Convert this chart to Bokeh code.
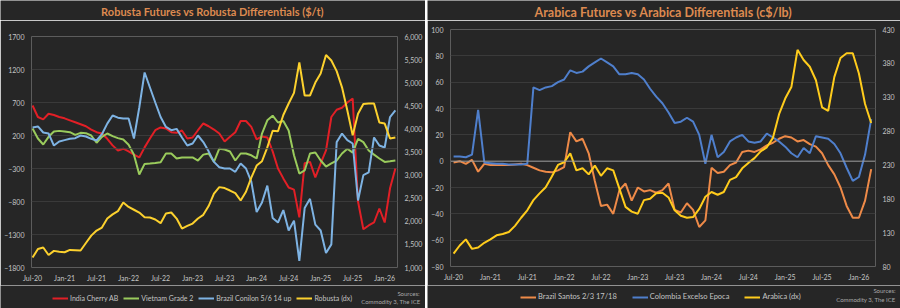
from bokeh.plotting import figure
from bokeh.layouts import row, column
from bokeh.models import (Range1d, LinearAxis, FixedTicker, NumeralTickFormatter,
                          Span, Label, Legend, LegendItem)
from bokeh.embed import file_html
from bokeh.resources import INLINE

# ---------------- data ----------------
tick_labels = ["Jul-20", "Jan-21", "Jul-21", "Jan-22", "Jul-22", "Jan-23",
               "Jul-23", "Jan-24", "Jul-24", "Jan-25", "Jul-25", "Jan-26"]
tick_pos = [0, 6, 12, 18, 24, 30, 36, 42, 48, 54, 60, 66]

# Robusta differentials ($/t) and futures ($/t), monthly Jul-20 .. Mar-26
india_cherry_ab = [655, 480, 445, 530, 510, 480, 460, 430, 400, 370,
                   340, 290, 250, 230, 150, 50, -27, 0, -40, -90,
                   -133, 20, 155, 280, 322, 306, 250, 240, 276, 155,
                   170, 280, 382, 340, 290, 230, 110, 180, 250, 420,
                   420, 330, 140, 185, 170, -40, -300, -450, -588, -620,
                   -1040, -220, -200, -436, -224, -27, 480, 590, 620, 700,
                   760, -800, -1220, -1163, -1118, -906, -1118, -600, -300]
vietnam_grade_2 = [306, 155, 64, 180, 260, 270, 260, 250, 210, 240,
                   235, 200, 90, 180, 230, 190, 160, 140, 60, -90,
                   -390, -230, -224, -215, -205, -73, -73, -148, -133, -133,
                   -133, -179, -90, -73, -200, 0, -12, -42, -179, -73,
                   -73, -100, -148, 230, 430, 500, 397, 420, 276, -100,
                   -376, -330, -73, -57, -179, -270, -224, -179, -73, 0,
                   -60, 150, 100, -27, -90, -148, -200, -190, -179]
brazil_conilon = [322, 337, 245, 230, 48, 110, 130, 150, 160, 200,
                  185, 150, 124, 220, 380, 503, 470, 458, 458, 155,
                  624, 1155, 927, 700, 480, 330, 280, 300, 170, 48,
                  79, 200, 100, -40, -200, -280, -300, -300, -350, -224,
                  -300, -500, -960, -815, -560, -1050, -1118, -930, -1240, -1090,
                  -1700, -900, -760, -1150, -1240, -1580, -1450, 100, 230, 130,
                  79, -785, -400, -360, 170, 48, 18, 480, 579]
robusta_dx = [1215, 1400, 1432, 1270, 1360, 1340, 1330, 1380, 1375, 1367,
              1530, 1690, 1800, 1865, 2060, 2150, 2220, 2406, 2310, 2250,
              2190, 2090, 2081, 2040, 1960, 2168, 2190, 2059, 1843, 1900,
              1951, 2060, 2140, 2330, 2600, 2740, 2720, 2666, 2610, 2450,
              2640, 2947, 3207, 3300, 3600, 3960, 3950, 4300, 4549, 4780,
              5437, 4723, 4723, 5004, 5200, 5600, 5480, 5250, 4900, 4400,
              3860, 4330, 4540, 4550, 4549, 4138, 4116, 3792, 3813]

# Arabica differentials (c$/lb) and futures (c$/lb)
brazil_santos = [-1, 0, -2, 1, -8, -2, -3, -3, -3, -3,
                 -2.5, -2, -3, -5, -7, -8, -8.5, -7, -4.5, 22,
                 15, 17, 6, -15, -34, -33, -40, -22, -17, -30,
                 -20, -23, -22, -24, -22, -17, -37, -39, -32, -37,
                 -50, -45, -5, -9, -8, -3, -1, 7, 8, 7,
                 9, 12, 14, 17, 19, 18, 15, 16, 13, 11,
                 6, -3, -10, -20, -34, -43, -43, -30, -6]
colombia_excelso = [3.5, 3.5, 3, 5, 39, -1, -1.5, -2, -2, -2.5,
                    -2.5, -2.5, -2, 56, 54, 56, 57, 60, 62, 69,
                    67, 68, 72, 75, 78, 75, 72, 66, 66, 67,
                    66, 62, 55, 49, 44, 37, 29, 30, 33, 30,
                    20, -2, 20, 3, 7, 15, 18, 20, 15, 14,
                    15, 21, 18, 15, 11, 6, 3, 10, 6, 19,
                    18, 17, 13, 6, -5, -15, -12, 5, 32]
arabica_dx = [99, 111, 120, 106, 108, 115, 120, 126, 128, 131,
              140, 152, 163, 178, 188, 197, 213, 230, 234, 247,
              222, 225, 216, 229, 214, 225, 222, 195, 168, 161,
              158, 178, 180, 188, 189, 182, 163, 155, 152, 153,
              165, 183, 190, 186, 190, 208, 212, 225, 233, 240,
              250, 256, 270, 305, 328, 345, 400, 385, 375, 355,
              315, 310, 360, 388, 395, 395, 365, 320, 292]

left_ticks_rob = [-1800, -1300, -800, -300, 200, 700, 1200, 1700]
right_ticks_rob = [1000, 1500, 2000, 2500, 3000, 3500, 4000, 4500, 5000, 5500, 6000]
left_ticks_ara = [-80, -60, -40, -20, 0, 20, 40, 60, 80, 100]
right_ticks_ara = [80, 130, 180, 230, 280, 330, 380, 430]

title_rob = "Robusta Futures vs Robusta Differentials ($/t)"
title_ara = "Arabica Futures vs Arabica Differentials (c$/lb)"
source_lines = ["Sources:", "Commodity 3, The ICE"]

# ---------------- style ----------------
BG = "#262626"
GRID = "#3a3a3a"
TXT = "#c4c4c4"
SRC = "#a8a8a8"
FONT = "Lato"
TITLE_C = "#dd8a50"
NAN = float("nan")


def main_fig(width, height, xr, yr, yr2, lt, rt, borders):
    l, r, t, b = borders
    p = figure(width=width, height=height, output_backend="svg", toolbar_location=None,
               x_range=xr, y_range=yr, min_border_left=l, min_border_right=r,
               min_border_top=t, min_border_bottom=b, frame_align=False,
               background_fill_color=BG, border_fill_color=BG, outline_line_color=None)
    p.extra_y_ranges = {"r": yr2}
    p.add_layout(LinearAxis(y_range_name="r"), "right")
    p.xgrid.visible = False
    p.ygrid.grid_line_color = GRID
    p.ygrid.grid_line_width = 1
    p.ygrid.ticker = FixedTicker(ticks=lt)
    for ax in p.axis:
        ax.axis_line_color = None
        ax.major_tick_line_color = None
        ax.minor_tick_line_color = None
        ax.major_tick_out = 0
        ax.major_tick_in = 0
        ax.minor_tick_out = 0
        ax.minor_tick_in = 0
        ax.major_label_text_color = TXT
        ax.major_label_text_font = FONT
        ax.major_label_text_font_size = "7px"
    p.xaxis.ticker = FixedTicker(ticks=tick_pos)
    p.xaxis.major_label_overrides = {k: v for k, v in zip(tick_pos, tick_labels)}
    p.xaxis.major_label_standoff = 6
    p.yaxis[0].ticker = FixedTicker(ticks=lt)
    p.yaxis[1].ticker = FixedTicker(ticks=rt)
    p.yaxis[0].major_label_standoff = 7
    p.yaxis[1].major_label_standoff = 7
    return p


def strip_fig(width, height):
    # ranges equal to the pixel size, so label positions are in pixels
    s = figure(width=width, height=height, output_backend="svg", toolbar_location=None,
               x_range=Range1d(0, width), y_range=Range1d(0, height),
               x_axis_type=None, y_axis_type=None, min_border=0, frame_align=False,
               background_fill_color=BG, border_fill_color=BG, outline_line_color=None)
    s.xgrid.visible = False
    s.ygrid.visible = False
    return s


def text_label(fig, x, y, text, size, color, align, bold=False):
    fig.add_layout(Label(x=x, y=y, text=text, text_font=FONT,
                         text_font_style="bold" if bold else "normal",
                         text_font_size=size, text_color=color,
                         text_align=align, text_baseline="middle"))


def style_legend(lg, fs, spacing):
    lg.label_text_font = FONT
    lg.label_text_font_size = fs
    lg.label_text_color = TXT
    lg.glyph_width = 16
    lg.glyph_height = 8
    lg.label_height = 8
    lg.label_standoff = 2
    lg.spacing = spacing
    lg.padding = 0
    lg.margin = 0
    lg.background_fill_alpha = 0
    lg.border_line_alpha = 0


x = list(range(len(india_cherry_ab)))

# ================= left chart =================
t1 = strip_fig(425, 20)
text_label(t1, 212, 9, title_rob, "11px", TITLE_C, "center", bold=True)

p1 = main_fig(425, 265, Range1d(-0.2, 68.4), Range1d(-1800, 1700), Range1d(1000, 6000),
              left_ticks_rob, right_ticks_rob, (31, 25, 16, 18))
p1.yaxis[1].formatter = NumeralTickFormatter(format="0,0")
p1.add_layout(Span(location=0, dimension="width", line_color="#444444", line_width=1))

cols1 = ["#e21f26", "#9acb5c", "#7eb3e3", "#fcd12e"]
names1 = ["India Cherry AB", "Vietnam Grade 2", "Brazil Conilon 5/6 14 up", "Robusta (dx)"]
p1.line(x, india_cherry_ab, color=cols1[0], line_width=2)
p1.line(x, vietnam_grade_2, color=cols1[1], line_width=2)
p1.line(x, brazil_conilon, color=cols1[2], line_width=2)
p1.line(x, robusta_dx, color=cols1[3], line_width=2, y_range_name="r")

b1 = strip_fig(425, 23)
items1 = []
for c, n in zip(cols1, names1):
    rr = b1.line(x=[NAN], y=[NAN], color=c, line_width=2)
    items1.append(LegendItem(label=n, renderers=[rr]))
leg1 = Legend(items=items1, location=(52, 6), orientation="horizontal")
style_legend(leg1, "7px", 5)
b1.add_layout(leg1, "center")
text_label(b1, 419, 15, source_lines[0], "6px", SRC, "right")
text_label(b1, 420, 7, source_lines[1], "6px", SRC, "right")

# ================= right chart =================
t2 = strip_fig(473, 20)
text_label(t2, 236, 8, title_ara, "12.5px", TITLE_C, "center", bold=True)

p2 = main_fig(473, 265, Range1d(-0.5, 68.7), Range1d(-80, 100), Range1d(80, 430),
              left_ticks_ara, right_ticks_ara, (23, 25, 9, 19))
p2.add_layout(Span(location=0, dimension="width", line_color="#9a9a9a", line_width=1))

cols2 = ["#ee8a48", "#4f7fcc", "#ffcc1c"]
names2 = ["Brazil Santos 2/3 17/18", "Colombia Excelso Epoca", "Arabica (dx)"]
p2.line(x, brazil_santos, color=cols2[0], line_width=2)
p2.line(x, colombia_excelso, color=cols2[1], line_width=2)
p2.line(x, arabica_dx, color=cols2[2], line_width=2, y_range_name="r")

b2 = strip_fig(473, 23)
items2 = []
for c, n in zip(cols2, names2):
    rr = b2.line(x=[NAN], y=[NAN], color=c, line_width=2)
    items2.append(LegendItem(label=n, renderers=[rr]))
leg2 = Legend(items=items2, location=(93, 7), orientation="horizontal")
style_legend(leg2, "7.5px", 15)
b2.add_layout(leg2, "center")
text_label(b2, 468, 18, source_lines[0], "6px", SRC, "right")
text_label(b2, 468, 9, source_lines[1], "6px", SRC, "right")

layout = row(column(t1, p1, b1, spacing=0), column(t2, p2, b2, spacing=0), spacing=2)
open("out.html", "w").write(file_html(layout, INLINE))
